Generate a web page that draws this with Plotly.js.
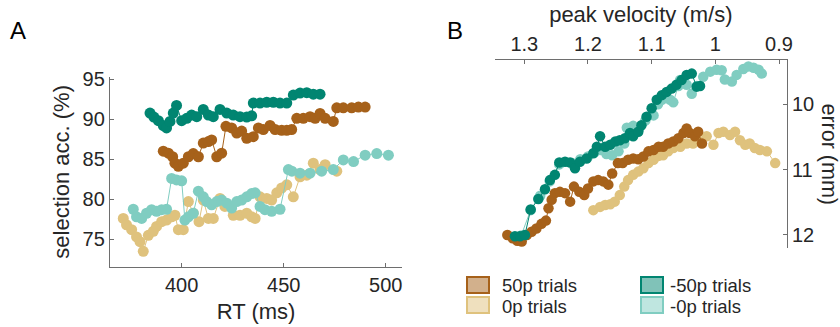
<!DOCTYPE html>
<html>
<head>
<meta charset="utf-8">
<script src="https://cdn.plot.ly/plotly-3.0.1.min.js"></script>
<style>html,body{margin:0;padding:0;background:#fff;}#chart{width:840px;height:327px;}</style>
</head>
<body>
<div id="chart"></div>
<script>
// ---------- Panel A: RT (ms) vs selection accuracy (%) ----------
const aDark50Rt  = [391.0,393.5,395.6,396.7,398.4,400.8,403.3,405.7,408.2,410.6,413.1,414.7,417.2,419.6,421.7,424.5,427.0,429.4,431.9,435.1,437.6,440.0,443.3,445.8,449.0,451.5,453.9,456.4,459.6,462.9,465.4,467.8,470.3,474.3,476.0,479.2,483.3,486.6,489.9];
const aDark50Acc = [86.0,85.75,85.3,84.5,84.1,84.5,85.3,85.7,85.3,87.0,87.2,87.4,85.3,85.75,89.1,88.9,88.25,88.5,87.6,87.8,88.9,88.7,89.2,88.7,88.6,88.6,88.7,90.1,90.1,90.3,90.1,90.7,90.1,89.7,91.4,91.4,91.4,91.5,91.5];

const aZeroRt  = [371.4,373.0,375.5,377.9,379.6,381.2,383.7,386.1,387.7,390.2,392.6,395.1,396.7,398.4,400.8,403.3,405.7,408.5,410.6,413.1,415.5,418.8,421.2,425.3,428.6,431.9,434.3,436.0,438.4,441.7,444.1,446.6,449.0,451.5,454.7,458.0,461.3,464.5,467.8,470.3,476.0];
const aZeroAcc = [77.6,76.8,76.2,75.3,74.7,73.5,75.5,76.0,76.6,77.2,77.4,77.8,78.0,76.2,76.2,79.7,78.25,77.2,79.9,77.6,77.6,80.1,79.1,78.0,78.0,78.25,77.8,77.6,80.3,80.1,79.9,80.8,81.4,81.8,80.3,82.8,83.0,84.5,83.7,84.3,83.5];

const aNeg50Rt  = [384.5,386.4,388.6,391.0,392.6,394.3,395.9,397.5,400.0,402.5,404.9,407.4,410.6,413.1,415.5,418.8,422.1,425.3,428.6,431.9,434.3,435.1,438.4,441.7,444.9,448.2,451.5,454.7,458.0,461.3,464.5,467.8];
const aNeg50Acc = [90.75,90.25,89.8,89.2,88.9,89.7,90.75,91.7,89.8,90.1,90.5,90.3,91.2,90.5,90.3,91.2,90.75,90.5,90.3,90.25,90.4,92.0,92.0,92.1,92.1,92.0,92.0,93.0,93.25,93.3,93.1,93.1];

const aNeg0Rt  = [376.3,377.9,380.4,382.8,385.3,387.7,390.2,392.6,395.1,397.5,400.0,401.6,403.3,405.7,408.2,410.6,412.3,414.7,417.2,419.6,422.1,424.5,427.0,429.4,431.9,434.3,436.0,438.4,440.8,444.1,448.2,452.3,454.0,458.0,462.9,468.6,474.3,479.2,484.2,489.9,495.6,501.3];
const aNeg0Acc = [78.75,77.8,77.6,78.25,78.7,78.5,78.7,78.75,82.6,82.4,82.3,77.4,77.8,78.25,81.0,80.3,79.7,79.3,79.7,79.9,79.5,78.9,79.7,79.9,80.3,80.7,80.8,79.1,78.7,78.5,78.75,83.7,83.5,83.25,83.25,83.5,83.7,84.9,84.7,85.5,85.7,85.5];

// ---------- Panel B: peak velocity (m/s) vs error (mm) ----------
const bDark50Vel = [1.3267,1.3183,1.311,1.304,1.296,1.2885,1.281,1.273,1.266,1.262,1.257,1.252,1.244,1.236,1.228,1.222,1.2136,1.2058,1.2,1.1916,1.184,1.176,1.168,1.162,1.153,1.1455,1.137,1.129,1.121,1.113,1.105,1.097,1.089,1.082,1.074,1.066,1.058,1.050,1.045,1.040,1.032,1.027,1.021];
const bDark50Err = [12.0,12.05,12.09,12.1,12.0,11.95,11.9,11.83,11.78,11.59,11.46,11.36,11.34,11.36,11.49,11.26,11.34,11.39,11.29,11.18,11.16,11.18,11.23,11.06,10.9,10.9,10.85,10.83,10.84,10.8,10.72,10.7,10.65,10.65,10.6,10.57,10.52,10.44,10.37,10.44,10.49,10.42,10.6];

const bZeroVel = [1.1916,1.181,1.173,1.165,1.158,1.150,1.143,1.137,1.129,1.121,1.113,1.105,1.097,1.089,1.082,1.074,1.066,1.055,1.045,1.035,1.024,1.0136,1.003,0.995,0.9874,0.977,0.969,0.9613,0.953,0.946,0.938,0.930,0.919,0.906];
const bZeroErr = [11.62,11.57,11.54,11.53,11.49,11.39,11.26,11.16,11.08,11.03,10.98,10.9,10.85,10.79,10.78,10.72,10.67,10.65,10.6,10.6,10.57,10.49,10.62,10.44,10.42,10.47,10.42,10.55,10.62,10.6,10.67,10.7,10.72,10.9];

const bNeg50Vel = [1.3147,1.3068,1.299,1.290,1.278,1.2675,1.2597,1.252,1.245,1.236,1.228,1.2204,1.2126,1.2021,1.1916,1.186,1.181,1.173,1.165,1.157,1.150,1.142,1.134,1.129,1.121,1.116,1.108,1.100,1.092,1.084,1.0764,1.0686,1.061,1.053,1.045,1.037,1.0293,1.024];
const bNeg50Err = [12.02,12.02,12.0,11.61,11.45,11.3,11.16,11.08,10.89,10.88,10.89,10.98,10.88,10.83,10.75,10.65,10.49,10.65,10.62,10.57,10.55,10.52,10.44,10.49,10.42,10.32,10.19,10.06,9.93,9.86,9.81,9.76,9.7,9.63,9.55,9.53,9.73,9.72];

const bNeg0Vel = [1.305,1.29,1.275,1.26,1.245,1.225,1.212,1.2,1.19,1.18,1.171,1.162,1.152,1.143,1.139,1.129,1.12,1.11,1.097,1.09,1.084,1.071,1.066,1.058,1.0555,1.045,1.037,1.029,1.019,1.008,0.998,0.990,0.985,0.974,0.9665,0.956,0.948,0.940,0.932,0.927];
const bNeg0Err = [12.01,11.62,11.4,11.18,10.92,10.9,10.84,10.8,10.74,10.7,10.76,10.78,10.72,10.6,10.36,10.33,10.38,10.25,10.17,10.0,9.93,9.93,9.97,9.72,9.63,9.70,9.84,9.72,9.58,9.50,9.47,9.48,9.62,9.65,9.55,9.46,9.42,9.44,9.47,9.53];

// tick labels
const aXTicks = [400, 450, 500];
const aYTicks = [75, 80, 85, 90, 95];
const bXTicks = [0.9, 1, 1.1, 1.2, 1.3];
const bXTickText = ['0.9', '1', '1.1', '1.2', '1.3'];
const bYTicks = [10, 11, 12];

const seriesNames = ['50p trials', '0p trials', '-50p trials', '-0p trials'];
const C_DARK50 = '#A6611A', C_ZERO = '#DFC27D', C_NEG50 = '#018571', C_NEG0 = '#80CDC1';

function tr(x, y, color, xa, ya, size) {
  return {x: x, y: y, xaxis: xa, yaxis: ya, type: 'scatter', mode: 'lines+markers',
    line: {color: color, width: 1}, marker: {color: color, size: size},
    showlegend: false, hoverinfo: 'skip'};
}

const data = [
  tr(aZeroRt, aZeroAcc, C_ZERO, 'x', 'y', 11),
  tr(aNeg0Rt, aNeg0Acc, C_NEG0, 'x', 'y', 11),
  tr(aDark50Rt, aDark50Acc, C_DARK50, 'x', 'y', 11),
  tr(aNeg50Rt, aNeg50Acc, C_NEG50, 'x', 'y', 11),
  tr(bZeroVel, bZeroErr, C_ZERO, 'x2', 'y2', 10.5),
  tr(bNeg0Vel, bNeg0Err, C_NEG0, 'x2', 'y2', 10.5),
  tr(bDark50Vel, bDark50Err, C_DARK50, 'x2', 'y2', 10.5),
  tr(bNeg50Vel, bNeg50Err, C_NEG50, 'x2', 'y2', 10.5)
];

const W = 840, H = 327;
const px = v => v / W, py = v => 1 - v / H;
const FONT = 'Liberation Sans, Arial, sans-serif';
const TXT = '#262626', AX = '#6e6e6e';

const axBase = {showline: true, linecolor: AX, linewidth: 1.2, ticks: 'inside', ticklen: 4,
  tickcolor: AX, tickwidth: 1, showgrid: false, zeroline: false,
  tickfont: {family: FONT, size: 20, color: TXT}, fixedrange: true};

function swatch(x0, y0, color, fill) {
  return {type: 'rect', xref: 'paper', yref: 'paper',
    x0: px(x0), x1: px(x0 + 22), y0: py(y0 + 16), y1: py(y0),
    line: {color: color, width: 2}, fillcolor: fill};
}
function legText(x, y, t) {
  return {xref: 'paper', yref: 'paper', x: px(x), y: py(y), xanchor: 'left', yanchor: 'middle',
    text: t, showarrow: false, borderpad: 0, font: {family: FONT, size: 18.5, color: TXT}};
}

const layout = {
  width: W, height: H, margin: {l: 0, r: 0, t: 0, b: 0},
  paper_bgcolor: '#fff', plot_bgcolor: 'rgba(0,0,0,0)', showlegend: false,
  xaxis: Object.assign({}, axBase, {domain: [px(110), px(402.3)], range: [364.9, 508.1],
    tickvals: aXTicks, anchor: 'y',
    title: {text: 'RT (ms)', font: {family: FONT, size: 22, color: TXT}, standoff: 8}}),
  yaxis: Object.assign({}, axBase, {domain: [py(266.7), py(77)], range: [71.58, 95.25],
    tickvals: aYTicks, anchor: 'x',
    title: {text: 'selection acc. (%)', font: {family: FONT, size: 22, color: TXT}, standoff: 6}}),
  xaxis2: Object.assign({}, axBase, {domain: [px(495), px(786.7)], range: [1.346, 0.8879],
    tickvals: bXTicks, ticktext: bXTickText, side: 'top', anchor: 'y2',
    title: {text: 'peak velocity (m/s)', font: {family: FONT, size: 22, color: TXT}, standoff: 4}}),
  yaxis2: Object.assign({}, axBase, {domain: [py(248.3), py(60)], range: [12.204, 9.322],
    tickvals: bYTicks, side: 'right', anchor: 'x2'}),
  shapes: [
    swatch(467, 277, C_DARK50, 'rgba(166,97,26,0.5)'),
    swatch(467, 297, C_ZERO, 'rgba(223,194,125,0.5)'),
    swatch(641, 277, C_NEG50, 'rgba(1,133,113,0.5)'),
    swatch(641, 297, C_NEG0, 'rgba(128,205,193,0.5)')
  ],
  annotations: [
    {xref: 'paper', yref: 'paper', x: px(18), y: py(30), text: 'A', showarrow: false,
      xanchor: 'center', yanchor: 'middle', font: {family: FONT, size: 24, color: '#000'}},
    {xref: 'paper', yref: 'paper', x: px(455), y: py(30), text: 'B', showarrow: false,
      xanchor: 'center', yanchor: 'middle', font: {family: FONT, size: 24, color: '#000'}},
    {xref: 'paper', yref: 'paper', x: px(828.5), y: py(154), text: 'error (mm)', showarrow: false,
      textangle: 90, borderpad: 0, xanchor: 'center', yanchor: 'middle', font: {family: FONT, size: 21.5, color: TXT}},
    legText(501, 285, seriesNames[0]),
    legText(501, 306, seriesNames[1]),
    legText(669, 285, seriesNames[2]),
    legText(669, 306, seriesNames[3])
  ]
};

Plotly.newPlot('chart', data, layout, {staticPlot: true, displayModeBar: false});
</script>
</body>
</html>
